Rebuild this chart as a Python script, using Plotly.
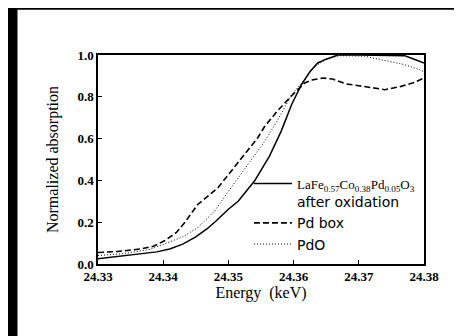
import plotly.graph_objects as go

# Energy (keV) and normalized absorption
e_sample = [24.330, 24.333, 24.336, 24.339, 24.341, 24.343, 24.345, 24.3468, 24.3481,
            24.350, 24.3515, 24.354, 24.3563, 24.3581, 24.3597, 24.3612, 24.3625,
            24.3637, 24.365, 24.3668, 24.370, 24.374, 24.377, 24.3785, 24.380]
a_sample = [0.025, 0.035, 0.045, 0.058, 0.072, 0.095, 0.13, 0.17, 0.206,
            0.262, 0.30, 0.397, 0.516, 0.636, 0.763, 0.858, 0.92,
            0.962, 0.98, 1.0, 1.0, 1.0, 0.997, 0.98, 0.962]

e_pdbox = [24.330, 24.333, 24.3366, 24.3385, 24.3402, 24.342, 24.3433, 24.3453, 24.3484,
           24.351, 24.3525, 24.3545, 24.3556, 24.3576, 24.3597, 24.3617, 24.363,
           24.3645, 24.366, 24.368, 24.370, 24.3724, 24.374, 24.3765, 24.3786, 24.380]
a_pdbox = [0.055, 0.06, 0.072, 0.085, 0.111, 0.15, 0.198, 0.285, 0.365,
           0.469, 0.524, 0.604, 0.66, 0.735, 0.805, 0.866, 0.882,
           0.89, 0.885, 0.862, 0.853, 0.84, 0.834, 0.85, 0.87, 0.89]

e_pdo = [24.330, 24.334, 24.338, 24.3402, 24.343, 24.3453, 24.3479, 24.3504, 24.353,
         24.3556, 24.3576, 24.3597, 24.3617, 24.363, 24.365, 24.367, 24.3709,
         24.3745, 24.377, 24.3793, 24.380]
a_pdo = [0.04, 0.05, 0.07, 0.095, 0.13, 0.174, 0.254, 0.365, 0.476,
         0.588, 0.691, 0.81, 0.882, 0.94, 0.98, 0.997, 0.994,
         0.97, 0.954, 0.93, 0.92]

x_ticks = [24.33, 24.34, 24.35, 24.36, 24.37, 24.38]
y_ticks = [0.0, 0.2, 0.4, 0.6, 0.8, 1.0]

serif = "Liberation Serif, Times New Roman, serif"
sans = "DejaVu Sans, Liberation Sans, sans-serif"

name1 = ('<span style="font-family:Liberation Serif;font-size:13px">LaFe<sub>0.57</sub>Co<sub>0.38</sub>'
         'Pd<sub>0.05</sub>O<sub>3</sub></span><br>after oxidation')

fig = go.Figure()
fig.add_trace(go.Scatter(x=e_sample, y=a_sample, mode="lines", name=name1,
                         line=dict(color="black", width=1.5, dash="solid")))
fig.add_trace(go.Scatter(x=e_pdbox, y=a_pdbox, mode="lines", name="Pd box",
                         line=dict(color="black", width=1.6, dash="6px,3px")))
fig.add_trace(go.Scatter(x=e_pdo, y=a_pdo, mode="lines", name="PdO",
                         line=dict(color="black", width=1, dash="1px,2px")))

fig.update_layout(
    width=462, height=336,
    margin=dict(l=90, r=46, t=47, b=80),
    paper_bgcolor="white", plot_bgcolor="white",
    showlegend=True,
    legend=dict(x=0.463, y=0.46, xanchor="left", yanchor="top",
                font=dict(family=sans, size=14, color="black"),
                bgcolor="rgba(0,0,0,0)", tracegroupgap=0, valign="top",
                itemwidth=38),
    xaxis=dict(range=[24.33, 24.38], tickvals=x_ticks,
               ticktext=[f"{v:.2f}" for v in x_ticks],
               ticks="inside", ticklen=4, tickcolor="black",
               showline=True, linecolor="black", linewidth=1.5, mirror=True,
               showgrid=False, zeroline=False,
               tickfont=dict(family=serif, size=13, color="black", weight="bold"),
               title=dict(text="Energy  (keV)", font=dict(family=serif, size=16, color="black"),
                          standoff=3)),
    yaxis=dict(range=[0, 1.0], tickvals=y_ticks,
               ticktext=[f"{v:.1f}" for v in y_ticks],
               ticks="inside", ticklen=4, tickcolor="black",
               showline=True, linecolor="black", linewidth=1.5, mirror=True,
               showgrid=False, zeroline=False,
               tickfont=dict(family=serif, size=13, color="black", weight="bold"),
               title=dict(text="Normalized absorption", font=dict(family=serif, size=16, color="black"),
                          standoff=15)),
    shapes=[
        dict(type="rect", xref="paper", yref="paper", x0=-0.30, x1=-0.247,
             y0=-0.5, y1=1.3, fillcolor="black", line=dict(width=0), layer="above"),
        dict(type="rect", xref="paper", yref="paper", x0=-0.30, x1=1.2,
             y0=1.217, y1=1.3, fillcolor="black", line=dict(width=0), layer="above"),
    ],
)

fig.write_html("out.html")
